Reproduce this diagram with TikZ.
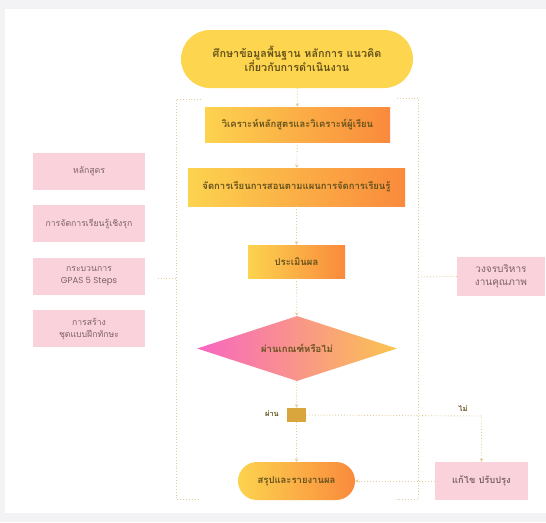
\documentclass[tikz,border=0pt]{standalone}
\usepackage{fontspec}
\setmainfont{Loma}[Script=Thai]
\newfontfamily\thaifont[Script=Thai]{Loma}
\newfontfamily\latfont{Poppins}
\usetikzlibrary{shapes.geometric,arrows.meta}
\definecolor{bggray}{HTML}{F3F3F6}
\definecolor{ylw}{HTML}{FDD54E}
\definecolor{ylwL}{HTML}{FCD34F}
\definecolor{orng}{HTML}{FA8A3C}
\definecolor{pnk}{HTML}{F9D2DC}
\definecolor{mag}{HTML}{F766C2}
\definecolor{ylwR}{HTML}{FBC450}
\definecolor{olive}{HTML}{65521C}
\definecolor{mauve}{HTML}{7E6066}
\definecolor{conn}{HTML}{E0CE9C}
\definecolor{sqc}{HTML}{D8A63C}
\begin{document}
\begin{tikzpicture}[x=1pt,y=-1pt,
  txt/.style={font=\thaifont\bfseries\fontsize{9.5}{12}\selectfont, text=olive, align=center, inner sep=0pt},
  grad/.style={txt, rectangle, left color=ylwL, right color=orng, draw=none},
  pill/.style={rectangle, rounded corners=#1, draw=none},
  pbox/.style={rectangle, fill=pnk, draw=none, font=\thaifont\fontsize{8.7}{12}\selectfont, text=mauve, align=center, inner sep=0pt},
  lnk/.style={conn, dotted, line width=0.9pt},
  arr/.style={lnk, -{Stealth[length=3.5pt,width=3.5pt]}},
]
\useasboundingbox (0,0) rectangle (546,522);
\fill[bggray] (0,0) rectangle (546,522);
\fill[white] (5,9) rectangle (546,513);

% main flow
\node[txt, pill=29pt, fill=ylw, minimum width=232pt, minimum height=58pt, font=\thaifont\bfseries\fontsize{10.8}{14}\selectfont] (top) at (297,59) {ศึกษาข้อมูลพื้นฐาน หลักการ แนวคิด\\เกี่ยวกับการดำเนินงาน};
\node[grad, minimum width=185pt, minimum height=35pt] (b1) at (297.5,124.5) {วิเคราะห์หลักสูตรและวิเคราะห์ผู้เรียน};
\node[grad, minimum width=217pt, minimum height=38pt] (b2) at (296.5,187) {จัดการเรียนการสอนตามแผนการจัดการเรียนรู้};
\node[grad, minimum width=97pt, minimum height=33pt] (b3) at (296.5,261.5) {ประเมินผล};
\node[txt, diamond, left color=mag, right color=ylwR, minimum width=200pt, minimum height=65pt, shape aspect=3] (dia) at (297,348.5) {ผ่านเกณฑ์หรือไม่};
\node[rectangle, fill=sqc, minimum width=19pt, minimum height=14pt, inner sep=0pt] (sq) at (296.5,415) {};
\node[txt, pill=19pt, left color=ylwL, right color=orng, minimum width=117pt, minimum height=38pt] (end) at (296.5,481) {สรุปและรายงานผล};
\node[pbox, minimum width=93pt, minimum height=38pt, font=\thaifont\bfseries\fontsize{9.3}{12}\selectfont] (fix) at (481.5,481) {แก้ไข ปรับปรุง};
\node[pbox, minimum width=88pt, minimum height=39pt, font=\thaifont\fontsize{10}{13}\selectfont] (qual) at (501,276.5) {วงจรบริหาร\\งานคุณภาพ};

% left boxes
\node[pbox, minimum width=112pt, minimum height=37pt] (l1) at (89,171.5) {หลักสูตร};
\node[pbox, minimum width=112pt, minimum height=37pt] (l2) at (89,223.5) {การจัดการเรียนรู้เชิงรุก};
\node[pbox, minimum width=112pt, minimum height=37pt] (l3) at (89,276.5) {กระบวนการ\\{\latfont\fontsize{8.6}{12}\selectfont GPAS 5 Steps}};
\node[pbox, minimum width=112pt, minimum height=37pt] (l4) at (89,328.5) {การสร้าง\\ชุดแบบฝึกทักษะ};

% labels
\node[font=\thaifont\bfseries\fontsize{7.5}{8}\selectfont, text=olive, inner sep=0pt] (lyes) at (272,414) {ผ่าน};
\node[font=\thaifont\bfseries\fontsize{7.5}{8}\selectfont, text=olive, inner sep=0pt] (lno) at (463,409) {ไม่};

% connectors
\draw[arr] (top) -- (b1);
\draw[arr] (b1) -- (b2);
\draw[arr] (b2) -- (b3);
\draw[arr] (b3) -- (dia);
\draw[arr] (dia) -- (sq);
\draw[arr] (sq) -- (end);
\coordinate (turn) at (481.5,416);
\draw[arr] (sq.east) -- (turn) -- (fix.north);
\draw[arr] (fix) -- (end);

% brackets
\coordinate (lt) at (201,99);
\coordinate (lb) at (199,499);
\coordinate (ltc) at (176,99);
\coordinate (lbc) at (176,499);
\coordinate (lmid) at (176,278);
\coordinate (lstub) at (158,278);
\draw[lnk] (lt) -- (ltc) -- (lbc) -- (lb);
\draw[lnk] (lmid) -- (lstub);
\coordinate (rt) at (397,98);
\coordinate (rb) at (397,499);
\coordinate (rtc) at (418.5,98);
\coordinate (rbc) at (418.5,499);
\coordinate (rmid) at (418.5,277);
\draw[lnk] (rt) -- (rtc) -- (rbc) -- (rb);
\draw[lnk] (rmid) -- (qual.west);
\end{tikzpicture}
\end{document}
